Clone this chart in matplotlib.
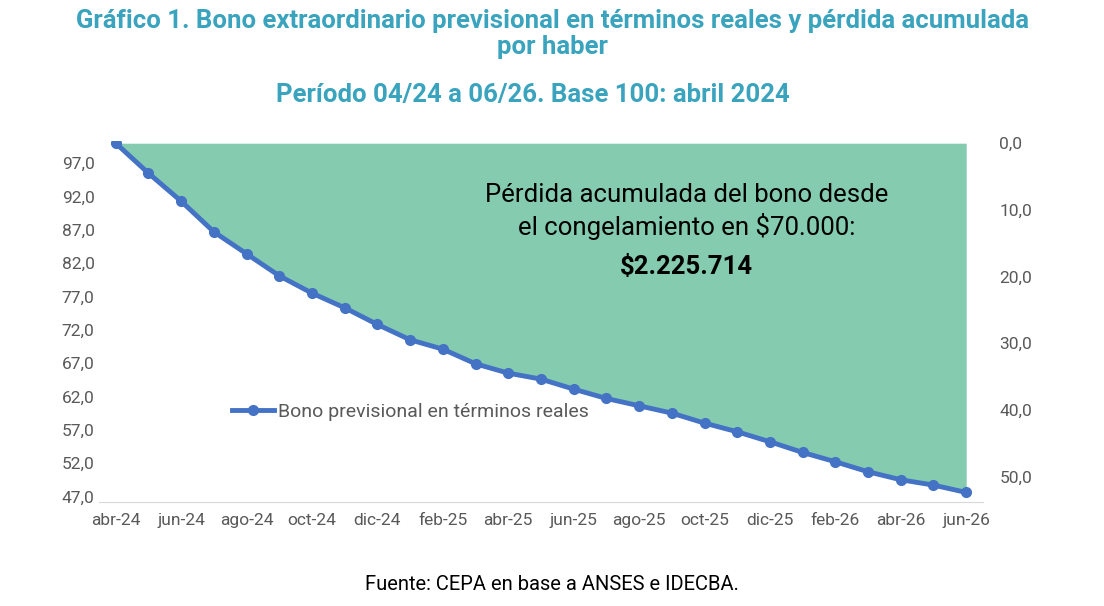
import matplotlib
matplotlib.use("Agg")
import matplotlib.pyplot as plt
import numpy as np

plt.rcParams['font.family'] = ['Roboto', 'DejaVu Sans']

months = ["abr-24","may-24","jun-24","jul-24","ago-24","sep-24","oct-24","nov-24","dic-24","ene-25",
          "feb-25","mar-25","abr-25","may-25","jun-25","jul-25","ago-25","sep-25","oct-25","nov-25",
          "dic-25","ene-26","feb-26","mar-26","abr-26","may-26","jun-26"]
values = [100, 95.5, 91.3, 86.7, 83.4, 80.1, 77.5, 75.3, 72.8, 70.5, 69.1, 66.9, 65.5, 64.6, 63.1,
          61.7, 60.6, 59.5, 58.0, 56.7, 55.2, 53.6, 52.2, 50.7, 49.5, 48.7, 47.6]
left_ticks = [47, 52, 57, 62, 67, 72, 77, 82, 87, 92, 97]
right_ticks = [0, 10, 20, 30, 40, 50]

fig = plt.figure(figsize=(11.04, 6.06), dpi=100)
ax = fig.add_axes([0.09, 0.172, 0.80, 0.595])
x = np.arange(len(months))
ax.fill_between(x, values, 100, color='#84cbb0', lw=0)
ax.plot(x, values, color='#4472C4', lw=3.5, marker='o', ms=7, label='Bono previsional en términos reales')
ax.set_xlim(-0.5, len(months) - 0.5)
ax.set_ylim(46.2, 100.3)
ax.set_yticks(left_ticks)
ax.set_yticklabels([f"{t:.1f}".replace('.', ',') for t in left_ticks])
ax.set_xticks(x[::2])
ax.set_xticklabels(months[::2])
for s in ['top', 'right', 'left']:
    ax.spines[s].set_visible(False)
ax.spines['bottom'].set_color('#d9d9d9')
ax.tick_params(length=0, labelsize=12.5, colors='#595959')
ax.tick_params(axis='x', pad=8)

ax2 = ax.twinx()
ax2.set_ylim(100 - 46.2, 100 - 100.3)
ax2.set_yticks(right_ticks)
ax2.set_yticklabels([f"{t:.1f}".replace('.', ',') for t in right_ticks])
for s in ax2.spines.values():
    s.set_visible(False)
ax2.tick_params(length=0, labelsize=12.5, colors='#595959', pad=12)

ax.legend(loc='center left', bbox_to_anchor=(0.13, 0.25), frameon=False, fontsize=14,
          labelcolor='#595959', handlelength=2.2, handletextpad=0.2)

ax.text(0.665, 0.885, "Pérdida acumulada del bono desde\nel congelamiento en $70.000:",
        transform=ax.transAxes, ha='center', va='top', fontsize=18.5, linespacing=1.3)
ax.text(0.665, 0.685, "$2.225.714", transform=ax.transAxes, ha='center', va='top',
        fontsize=18.5, fontweight='bold')

tc = '#3aa3bd'
fig.text(0.5, 0.985, "Gráfico 1. Bono extraordinario previsional en términos reales y pérdida acumulada\npor haber",
         ha='center', va='top', fontsize=18.5, fontweight='bold', color=tc, linespacing=1.1)
fig.text(0.483, 0.843, "Período 04/24 a 06/26. Base 100: abril 2024", ha='center', va='center',
         fontsize=18.5, fontweight='bold', color=tc)
fig.text(0.5, 0.035, "Fuente: CEPA en base a ANSES e IDECBA.", ha='center', va='center', fontsize=14.5)
fig.savefig("out.png", dpi=100)
